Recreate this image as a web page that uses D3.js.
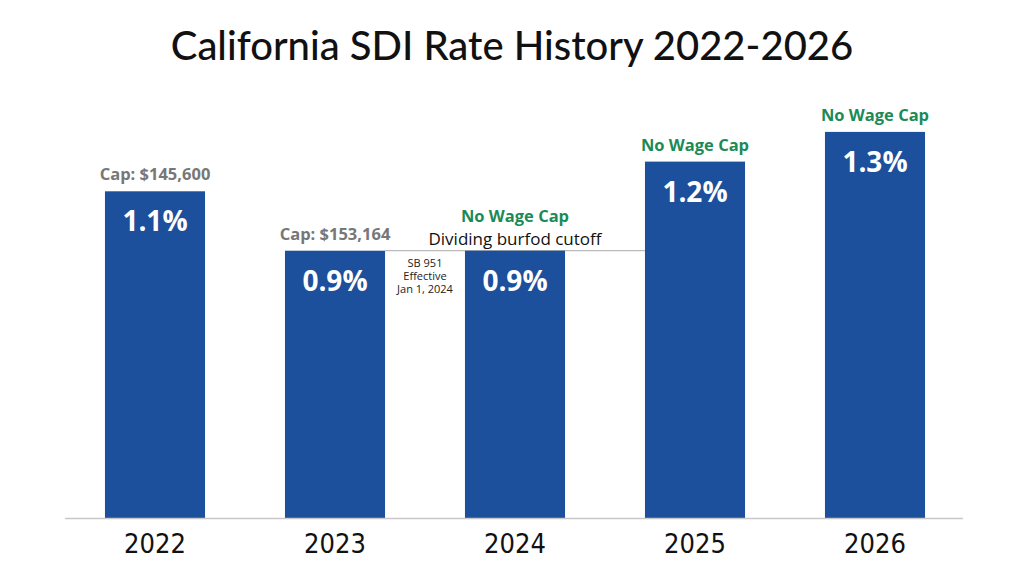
<!DOCTYPE html>
<html><head><meta charset="utf-8">
<script src="https://cdn.jsdelivr.net/npm/d3@7"></script>
<style>body{margin:0;background:#fff}svg{display:block}</style>
</head><body><svg id="c" width="1024" height="565"></svg>
<script>
const years = ["2022","2023","2024","2025","2026"];
const rates = [1.1, 0.9, 0.9, 1.2, 1.3];
const rateLabels = ["1.1%","0.9%","0.9%","1.2%","1.3%"];
const capLabels = ["Cap: $145,600","Cap: $153,164","No Wage Cap","No Wage Cap","No Wage Cap"];
const capIsNoCap = [false,false,true,true,true];
const title = "California SDI Rate History 2022-2026";
const noteLines = ["SB 951","Effective","Jan 1, 2024"];
const cutoffLabel = "Dividing burfod cutoff";

const svg = d3.select("#c");
const x = d3.scaleBand().domain(years).range([65,965]).paddingInner(0.444).paddingOuter(0.222);
const y = d3.scaleLinear().domain([0,1.35]).range([518,518-1.35*297]);
const blue="#1c4f9c", green="#1b8a57", gray="#777777";

svg.append("text").attr("x",512).attr("y",60).attr("text-anchor","middle")
  .attr("font-family","Lato, 'Open Sans', sans-serif").attr("font-size",40).attr("font-weight",500).attr("fill","#111").text(title);

// cutoff line at 0.9 between 2023 and 2025
svg.append("line").attr("x1",x("2023")+x.bandwidth()).attr("x2",x("2025"))
  .attr("y1",y(0.9)).attr("y2",y(0.9)).attr("stroke","#bbb").attr("stroke-width",1.2);

const g = svg.append("g");
g.selectAll("rect").data(rates).join("rect")
  .attr("x",(d,i)=>x(years[i])).attr("width",x.bandwidth())
  .attr("y",d=>y(d)).attr("height",d=>y(0)-y(d)).attr("fill",blue);

g.selectAll("text.val").data(rates).join("text").attr("class","val")
  .attr("x",(d,i)=>x(years[i])+x.bandwidth()/2).attr("y",d=>y(d)+40)
  .attr("text-anchor","middle").attr("font-family","'Open Sans', sans-serif").attr("font-weight",700)
  .attr("font-size",28).attr("fill","#fff").text((d,i)=>rateLabels[i]);

g.selectAll("text.cap").data(rates).join("text").attr("class","cap")
  .attr("x",(d,i)=>x(years[i])+x.bandwidth()/2)
  .attr("y",(d,i)=> i===2 ? y(d)-29 : y(d)-11)
  .attr("text-anchor","middle").attr("font-family","'Open Sans', sans-serif").attr("font-weight",700)
  .attr("font-size",16.5).attr("fill",(d,i)=>capIsNoCap[i]?green:gray).text((d,i)=>capLabels[i]);

svg.append("text").attr("x",x("2024")+x.bandwidth()/2).attr("y",y(0.9)-6)
  .attr("text-anchor","middle").attr("font-family","'Open Sans', sans-serif").attr("font-size",17)
  .attr("fill","#111").text(cutoffLabel);

const nx = (x("2023")+x.bandwidth()+x("2024"))/2;
svg.append("g").selectAll("text").data(noteLines).join("text")
  .attr("x",nx).attr("y",(d,i)=>y(0.9)+16+i*13).attr("text-anchor","middle")
  .attr("font-family","'Open Sans', sans-serif").attr("font-size",11).attr("fill","#222").text(d=>d);

// axis
const ax = svg.append("g").attr("transform",`translate(0,${y(0)})`)
  .call(d3.axisBottom(x).tickSize(0).tickPadding(16));
ax.select(".domain").remove();
ax.append("line").attr("x1",65).attr("x2",963).attr("y1",0.5).attr("y2",0.5).attr("stroke","#c8c8c8").attr("stroke-width",1.5);
ax.selectAll(".tick text").attr("font-family","'Liberation Sans Narrow','DejaVu Sans Condensed',sans-serif")
  .attr("font-size",27).attr("fill","#111");
</script></body></html>
